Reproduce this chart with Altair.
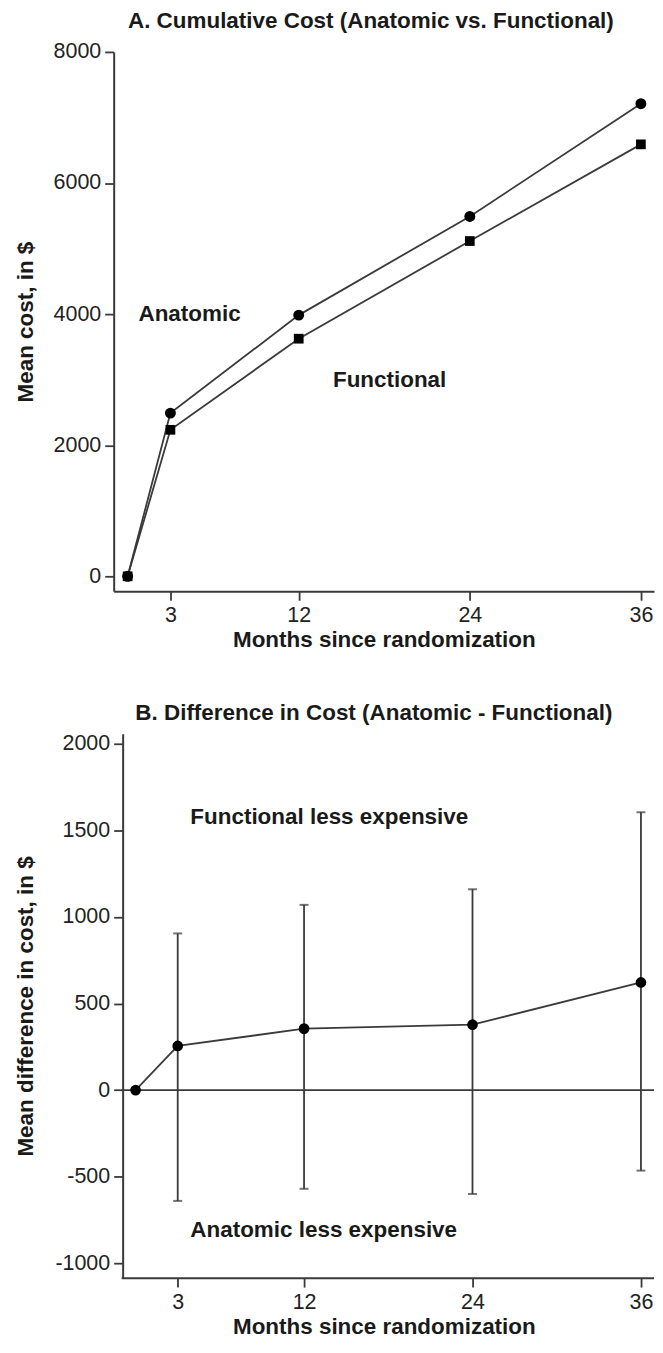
import altair as alt
import pandas as pd

# ---- data ----
months = [0, 3, 12, 24, 36]
anatomic_cost = [0, 2490, 3985, 5490, 7210]
functional_cost = [0, 2235, 3625, 5115, 6590]

diff_months = [0, 3, 12, 24, 36]
diff_mean = [0, 255, 355, 378, 622]
ci_months = [3, 12, 24, 36]
ci_lower = [-640, -570, -600, -465]
ci_upper = [905, 1070, 1160, 1605]

x_ticks = [3, 12, 24, 36]
yA_ticks = [0, 2000, 4000, 6000, 8000]
yB_ticks = [-1000, -500, 0, 500, 1000, 1500, 2000]

FONT = "Liberation Sans"
LINE = "#3a3a3a"
TXT = "#1a1a1a"
LAB = 21.5
TIT = 22.5
W = 542
HA = 541
HB = 546
SHIFT_B = 9  # B's y axis sits a little right of A's

dfA = pd.DataFrame({
    "month": months + months,
    "cost": anatomic_cost + functional_cost,
    "group": ["Anatomic"] * len(months) + ["Functional"] * len(months),
})
dfB = pd.DataFrame({"month": diff_months, "diff": diff_mean})
dfCI = pd.DataFrame({"month": ci_months, "lo": ci_lower, "hi": ci_upper})
labelsA = pd.DataFrame({"month": [0.76, 14.4], "cost": [4000, 3000],
                        "label": ["Anatomic", "Functional"]})
labelsB = pd.DataFrame({"month": [3.9, 3.9], "diff": [1580, -810],
                        "label": ["Functional less expensive", "Anatomic less expensive"]})
zero = pd.DataFrame({"y": [0]})

LBL = "'' + datum.value"

xA = alt.X("month:Q", scale=alt.Scale(domain=[-0.98, 36.92], nice=False, zero=False),
           axis=alt.Axis(values=x_ticks, title="Months since randomization", labelExpr=LBL))
yA = alt.Y("cost:Q", scale=alt.Scale(domain=[-228, 8000], nice=False),
           axis=alt.Axis(values=yA_ticks, title="Mean cost, in $", labelExpr=LBL,
                         titlePadding=16))

lineA = alt.Chart(dfA).mark_line(color=LINE, strokeWidth=1.8).encode(x=xA, y=yA, detail="group:N")
ptsA = alt.Chart(dfA).mark_point(filled=True, color="black", opacity=1).encode(
    x=xA, y=yA,
    shape=alt.Shape("group:N", scale=alt.Scale(domain=["Anatomic", "Functional"],
                                                range=["circle", "square"]), legend=None),
    size=alt.Size("group:N", scale=alt.Scale(domain=["Anatomic", "Functional"],
                                              range=[120, 95]), legend=None))
txtA = alt.Chart(labelsA).mark_text(align="left", baseline="middle", fontWeight="bold",
                                    fontSize=TIT, font=FONT, color=TXT).encode(
    x=alt.X("month:Q"), y=alt.Y("cost:Q"), text="label:N")

chartA = alt.layer(lineA, ptsA, txtA).properties(
    width=W, height=HA,
    title=alt.TitleParams("A. Cumulative Cost (Anatomic vs. Functional)", fontSize=TIT,
                          fontWeight="bold", font=FONT, color=TXT, anchor="middle",
                          offset=8, dx=-13),
)

xB = alt.X("month:Q", scale=alt.Scale(domain=[-1.5625, 36.93], nice=False, zero=False),
           axis=alt.Axis(values=x_ticks, title="Months since randomization", labelExpr=LBL,
                         domain=False))
yB = alt.Y("diff:Q", scale=alt.Scale(domain=[-1086, 2058], nice=False),
           axis=alt.Axis(values=yB_ticks, title="Mean difference in cost, in $", labelExpr=LBL,
                         offset=-SHIFT_B, titlePadding=17))

zeroB = alt.Chart(zero).mark_rule(color=LINE, strokeWidth=1.8).encode(
    y=alt.Y("y:Q"), x=alt.value(SHIFT_B), x2=alt.value(W))
baseB = alt.Chart(zero).mark_rule(color=LINE, strokeWidth=2).encode(
    y=alt.value(HB), x=alt.value(SHIFT_B - 1), x2=alt.value(W))
ciB = alt.Chart(dfCI).mark_rule(color=LINE, strokeWidth=1.8).encode(
    x=alt.X("month:Q"), y=alt.Y("lo:Q"), y2="hi:Q")
capLo = alt.Chart(dfCI).mark_tick(color=LINE, orient="horizontal", size=9, thickness=2).encode(
    x=alt.X("month:Q"), y=alt.Y("lo:Q"))
capHi = alt.Chart(dfCI).mark_tick(color=LINE, orient="horizontal", size=9, thickness=2).encode(
    x=alt.X("month:Q"), y=alt.Y("hi:Q"))
lineB = alt.Chart(dfB).mark_line(color=LINE, strokeWidth=1.8).encode(x=xB, y=yB)
ptsB = alt.Chart(dfB).mark_point(filled=True, color="black", opacity=1, size=115,
                                  shape="circle").encode(x=xB, y=yB)
txtB = alt.Chart(labelsB).mark_text(align="left", baseline="middle", fontWeight="bold",
                                    fontSize=TIT, font=FONT, color=TXT).encode(
    x=alt.X("month:Q"), y=alt.Y("diff:Q"), text="label:N")

chartB = alt.layer(lineB, zeroB, baseB, ciB, capLo, capHi, ptsB, txtB).properties(
    width=W, height=HB,
    title=alt.TitleParams("B. Difference in Cost (Anatomic - Functional)", fontSize=TIT,
                          fontWeight="bold", font=FONT, color=TXT, anchor="middle",
                          offset=8, dx=-10),
)

chart = alt.vconcat(chartA, chartB, spacing=51).properties(
    padding={"left": 6, "top": 0, "right": 0, "bottom": 0}
).configure_view(stroke=None).configure_axis(
    grid=False, domainColor=LINE, domainWidth=2, tickColor=LINE, tickWidth=1.8, tickSize=9,
    labelFont=FONT, labelFontSize=LAB, labelColor="#222", labelPadding=4,
    titleFont=FONT, titleFontSize=TIT, titleFontWeight="bold", titleColor=TXT,
).configure_axisX(titlePadding=3)

chart.save("out.html", embed_options={"renderer": "svg", "actions": False})
